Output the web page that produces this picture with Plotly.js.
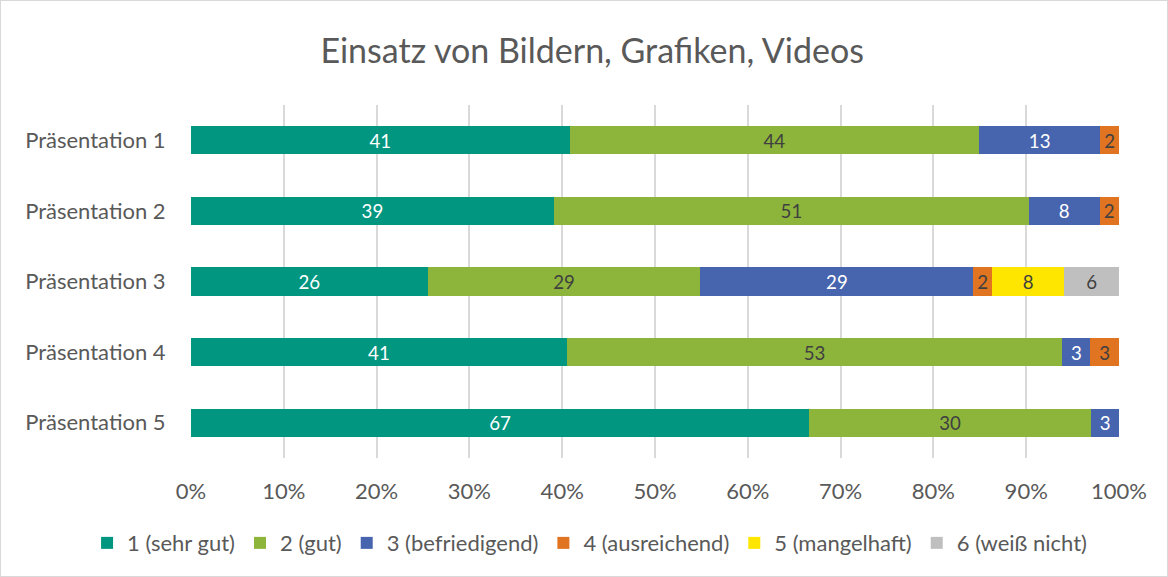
<!DOCTYPE html>
<html>
<head>
<meta charset="utf-8">
<script src="https://cdn.plot.ly/plotly-3.0.1.min.js"></script>
<style>
html,body{margin:0;padding:0;background:#fff;}
#chart{width:1168px;height:577px;box-sizing:border-box;border:1px solid #D9D9D9;}
</style>
</head>
<body>
<div id="chart"></div>
<script>
const categories = ["Präsentation 1","Präsentation 2","Präsentation 3","Präsentation 4","Präsentation 5"];
const seriesNames = ["1 (sehr gut)","2 (gut)","3 (befriedigend)","4 (ausreichend)","5 (mangelhaft)","6 (weiß nicht)"];
const sehrGut      = [40.8, 39.1, 25.5, 40.5, 66.6];
const gut          = [44.1, 51.2, 29.4, 53.4, 30.4];
const befriedigend = [13.1, 7.6, 29.4, 3.0, 3.0];
const ausreichend  = [2.0, 2.1, 2.0, 3.1, null];
const mangelhaft   = [null, null, 7.8, null, null];
const weissNicht   = [null, null, 5.9, null, null];
const xTickVals = [0,10,20,30,40,50,60,70,80,90,100];
const xTickText = ["0%","10%","20%","30%","40%","50%","60%","70%","80%","90%","100%"];

const colors = ["#009680","#8DB53C","#4764AE","#E07420","#FFE600","#BFBFBF"];
const textColors = ["#FFFFFF","#404040","#FFFFFF","#404040","#404040","#404040"];
const allSeries = [sehrGut, gut, befriedigend, ausreichend, mangelhaft, weissNicht];

const FONT = "Lato, 'Open Sans', sans-serif";

const traces = allSeries.map((vals, i) => ({
  type: "bar",
  orientation: "h",
  name: seriesNames[i],
  y: categories,
  x: vals,
  marker: {color: colors[i], line: {width: 0}},
  texttemplate: "%{x:.0f}",
  textposition: "inside",
  insidetextanchor: "middle",
  textangle: 0,
  insidetextfont: {family: FONT, size: 21, color: textColors[i]},
  hoverinfo: "name+x"
}));

const layout = {
  width: 1166, height: 575,
  barmode: "stack",
  bargap: 0.6,
  paper_bgcolor: "#FFFFFF",
  plot_bgcolor: "#FFFFFF",
  margin: {l: 190, r: 48, t: 104, b: 118, pad: 0, autoexpand: false},
  font: {family: FONT, color: "#595959", size: 22},
  title: {
    text: "Einsatz von Bildern, Grafiken, Videos",
    font: {family: FONT, size: 34, color: "#595959"},
    xref: "container", x: 0.507, xanchor: "center",
    yref: "container", y: 0.913, yanchor: "middle"
  },
  xaxis: {
    range: [0, 100],
    tickvals: xTickVals,
    ticktext: xTickText,
    showgrid: true,
    gridcolor: "#D9D9D9",
    gridwidth: 2,
    zeroline: false,
    showline: false,
    ticks: "outside",
    ticklen: 14,
    tickcolor: "rgba(0,0,0,0)",
    tickfont: {family: FONT, size: 22, color: "#595959"},
    fixedrange: true
  },
  yaxis: {
    autorange: "reversed",
    showgrid: false,
    zeroline: false,
    showline: false,
    ticks: "outside",
    ticklen: 20,
    tickcolor: "rgba(0,0,0,0)",
    tickfont: {family: FONT, size: 22, color: "#595959"},
    fixedrange: true
  },
  showlegend: true,
  legend: {
    orientation: "h",
    xref: "paper", x: -0.112, xanchor: "left",
    yref: "paper", y: -0.241, yanchor: "middle",
    font: {family: FONT, size: 22, color: "#595959"},
    traceorder: "normal",
    itemwidth: 30,
    itemsizing: "constant",
    bgcolor: "rgba(0,0,0,0)"
  }
};

Plotly.newPlot("chart", traces, layout, {displayModeBar: false, staticPlot: true});
</script>
</body>
</html>
